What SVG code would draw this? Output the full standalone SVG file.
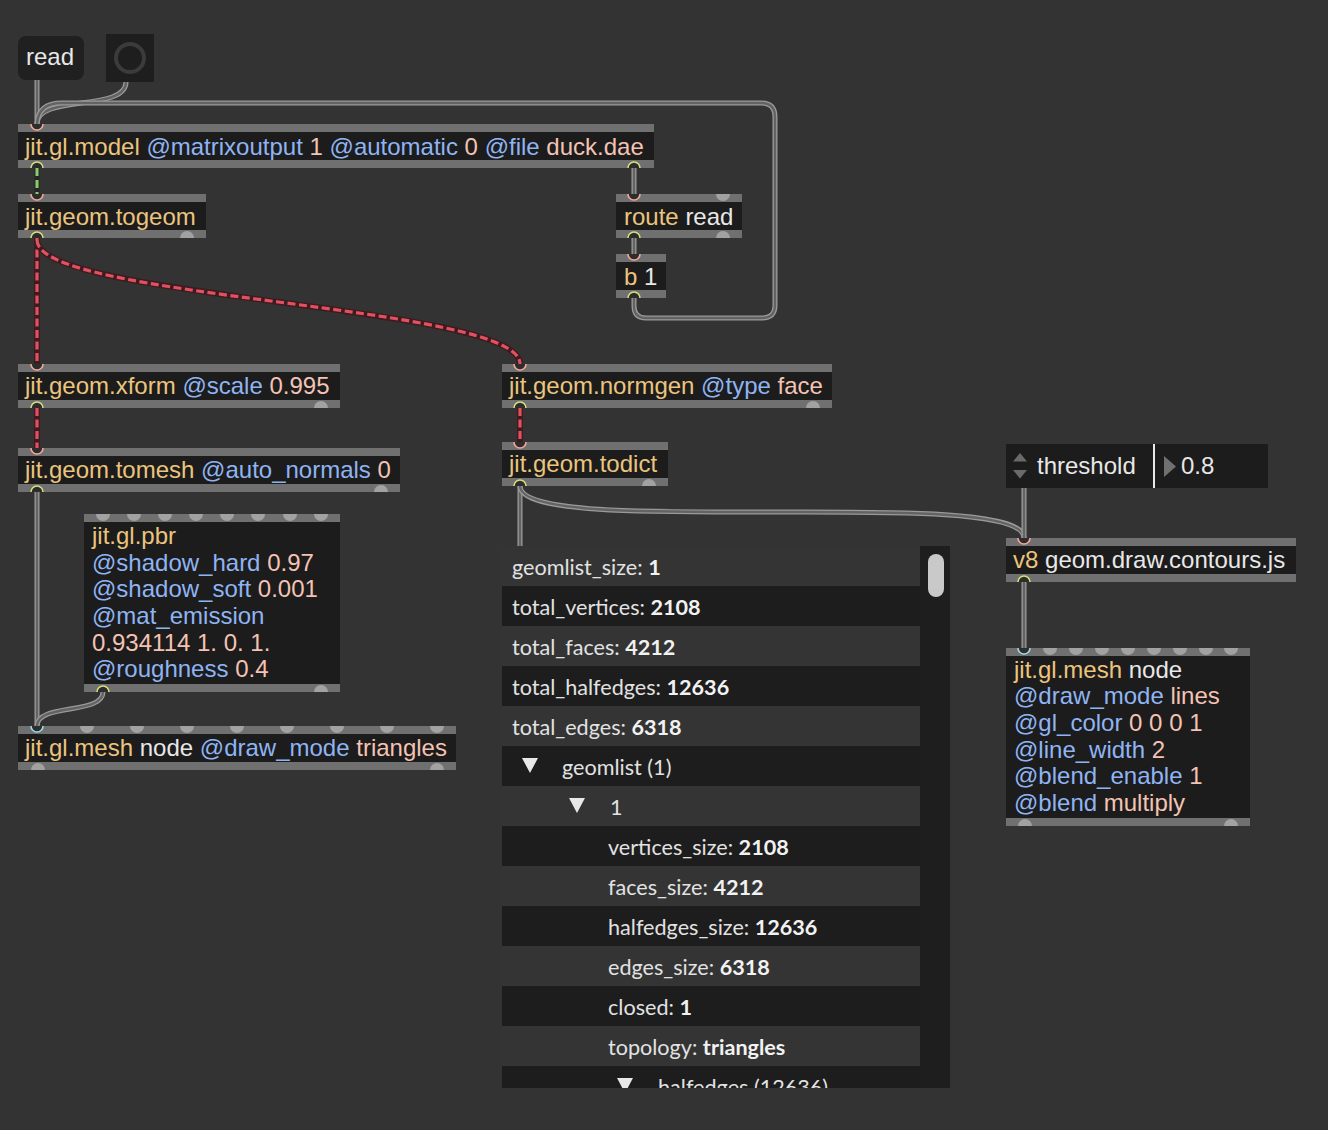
<svg xmlns="http://www.w3.org/2000/svg" xmlns:xlink="http://www.w3.org/1999/xlink" width="1328" height="1130" viewBox="0 0 1328 1130">
<style>
.bar{fill:#707070}
.body{fill:#1c1c1c}
.t{font-family:"Liberation Sans",Arial,sans-serif;font-size:24px;fill:#e8e8e8}
.c{fill:#ebc47e}
.a{fill:#8fb4f3}
.v{fill:#f4c3b3}
.w{fill:#e8e8e8}
.d{font-family:Lato,"Noto Sans",sans-serif;font-size:21.6px;fill:#e2e2e2}
.b{font-weight:bold;fill:#f2f2f2}
.lr{fill:#343434}
.dr{fill:#1d1d1d}
.co{fill:none;stroke:#9a9a9a;stroke-width:5}
.ci{fill:none;stroke:#636363;stroke-width:2.4}
.go{fill:none;stroke:#3d1b20;stroke-width:6}
.gi{fill:none;stroke:#e2515f;stroke-width:3.2;stroke-dasharray:8 3.5}
.mo{fill:none;stroke:#262626;stroke-width:5}
.mi{fill:none;stroke:#86cf6c;stroke-width:3;stroke-dasharray:8 4}
.pi{fill:#2d2d2d;stroke:#f2a99a;stroke-width:1.6}
.po{fill:#2d2d2d;stroke:#d6de7c;stroke-width:1.6}
.pc{fill:#2d2d2d;stroke:#9ad8ea;stroke-width:1.6}
.gp{fill:#a2a2a2}
.tri{fill:#e8e8e8}
</style>
<defs>
<path id="pIn" d="M-6,0 A6,6 0 0 0 6,0"/>
<path id="pOut" d="M-6,0 A6,6 0 0 1 6,0"/>
<path id="gIn" d="M-7,0 A7,7 0 0 0 7,0 Z"/>
<path id="gOut" d="M-7,0 A7,7 0 0 1 7,0 Z"/>
<clipPath id="dictClip"><rect x="502" y="546" width="448" height="542"/></clipPath>
</defs>
<rect x="0" y="0" width="1328" height="1130" fill="#333333"/>

<g id="connectors">
<path class="co" d="M37,80 L37,124"/><path class="ci" d="M37,80 L37,124"/>
<path class="co" d="M126,82 C126,112 37,94 37,124"/><path class="ci" d="M126,82 C126,112 37,94 37,124"/>
<path class="co" d="M634,298 L634,306 Q634,318 646,318 L762,318 Q775,318 775,305 L775,117 Q775,103 761,103 L62,103 Q38,103 37,124"/>
<path class="ci" d="M634,298 L634,306 Q634,318 646,318 L762,318 Q775,318 775,305 L775,117 Q775,103 761,103 L62,103 Q38,103 37,124"/>
<path class="co" d="M634,168 L634,194"/><path class="ci" d="M634,168 L634,194"/>
<path class="co" d="M634,238 L634,254"/><path class="ci" d="M634,238 L634,254"/>
<path class="mo" d="M37,168 L37,194"/><path class="mi" d="M37,168 L37,194"/>
<path class="go" d="M37,238 L37,364"/><path class="gi" d="M37,238 L37,364"/>
<path class="go" d="M37,240 C37,300 520,304 520,364"/><path class="gi" d="M37,240 C37,300 520,304 520,364"/>
<path class="go" d="M37,408 L37,448"/><path class="gi" d="M37,408 L37,448"/>
<path class="go" d="M520,408 L520,442"/><path class="gi" d="M520,408 L520,442"/>
<path class="co" d="M37,492 L37,726"/><path class="ci" d="M37,492 L37,726"/>
<path class="co" d="M103,692 C103,715 37,703 37,726"/><path class="ci" d="M103,692 C103,715 37,703 37,726"/>
<path class="co" d="M520,486 L520,546"/><path class="ci" d="M520,486 L520,546"/>
<path class="co" d="M520,486 C520,540 1024,484 1024,538"/><path class="ci" d="M520,486 C520,540 1024,484 1024,538"/>
<path class="co" d="M1024,488 L1024,538"/><path class="ci" d="M1024,488 L1024,538"/>
<path class="co" d="M1024,582 L1024,648"/><path class="ci" d="M1024,582 L1024,648"/>
</g>

<g id="n-read">
<rect x="18" y="36" width="66" height="44" rx="8" fill="#202020"/>
<text class="t w" x="26" y="65">read</text>
</g>

<g id="n-toggle">
<rect x="106" y="34" width="48" height="48" fill="#1e1e1e"/>
<circle cx="130" cy="58" r="14" fill="none" stroke="#3b3b3b" stroke-width="4"/>
</g>

<g id="n-model">
<rect class="bar" x="18" y="124" width="636" height="44"/>
<rect class="body" x="18" y="132" width="636" height="28"/>
<text class="t" x="25" y="154.5"><tspan class="c">jit.gl.model</tspan> <tspan class="a">@matrixoutput</tspan> <tspan class="v">1</tspan> <tspan class="a">@automatic</tspan> <tspan class="v">0</tspan> <tspan class="a">@file</tspan> <tspan class="v">duck.dae</tspan></text>
<use href="#pIn" x="37" y="124" class="pi"/>
<use href="#pOut" x="37" y="168" class="po"/>
<use href="#pOut" x="634" y="168" class="po"/>
</g>

<g id="n-togeom">
<rect class="bar" x="18" y="194" width="188" height="44"/>
<rect class="body" x="18" y="202" width="188" height="28"/>
<text class="t" x="25" y="224.5"><tspan class="c">jit.geom.togeom</tspan></text>
<use href="#pIn" x="37" y="194" class="pi"/>
<use href="#pOut" x="37" y="238" class="po"/>
<use href="#gOut" x="187" y="238" class="gp"/>
</g>

<g id="n-route">
<rect class="bar" x="616" y="194" width="126" height="44"/>
<rect class="body" x="616" y="202" width="126" height="28"/>
<text class="t" x="624" y="224.5"><tspan class="c">route</tspan> <tspan class="w">read</tspan></text>
<use href="#pIn" x="634" y="194" class="pi"/>
<use href="#gIn" x="723" y="194" class="gp"/>
<use href="#pOut" x="634" y="238" class="po"/>
<use href="#gOut" x="723" y="238" class="gp"/>
</g>

<g id="n-b1">
<rect class="bar" x="616" y="254" width="50" height="44"/>
<rect class="body" x="616" y="262" width="50" height="28"/>
<text class="t" x="624" y="284.5"><tspan class="c">b</tspan> <tspan class="w">1</tspan></text>
<use href="#pIn" x="634" y="254" class="pi"/>
<use href="#pOut" x="634" y="298" class="po"/>
</g>

<g id="n-xform">
<rect class="bar" x="18" y="364" width="322" height="44"/>
<rect class="body" x="18" y="372" width="322" height="28"/>
<text class="t" x="25" y="394"><tspan class="c">jit.geom.xform</tspan> <tspan class="a">@scale</tspan> <tspan class="v">0.995</tspan></text>
<use href="#pIn" x="37" y="364" class="pi"/>
<use href="#pOut" x="37" y="408" class="po"/>
<use href="#gOut" x="321" y="408" class="gp"/>
</g>

<g id="n-tomesh">
<rect class="bar" x="18" y="448" width="382" height="44"/>
<rect class="body" x="18" y="456" width="382" height="28"/>
<text class="t" x="25" y="478"><tspan class="c">jit.geom.tomesh</tspan> <tspan class="a">@auto_normals</tspan> <tspan class="v">0</tspan></text>
<use href="#pIn" x="37" y="448" class="pi"/>
<use href="#pOut" x="37" y="492" class="po"/>
<use href="#gOut" x="381" y="492" class="gp"/>
</g>

<g id="n-normgen">
<rect class="bar" x="502" y="364" width="330" height="44"/>
<rect class="body" x="502" y="372" width="330" height="28"/>
<text class="t" x="509" y="394"><tspan class="c">jit.geom.normgen</tspan> <tspan class="a">@type</tspan> <tspan class="v">face</tspan></text>
<use href="#pIn" x="520" y="364" class="pi"/>
<use href="#pOut" x="520" y="408" class="po"/>
<use href="#gOut" x="813" y="408" class="gp"/>
</g>

<g id="n-todict">
<rect class="bar" x="502" y="442" width="166" height="44"/>
<rect class="body" x="502" y="450" width="166" height="28"/>
<text class="t" x="509" y="472"><tspan class="c">jit.geom.todict</tspan></text>
<use href="#pIn" x="520" y="442" class="pi"/>
<use href="#pOut" x="520" y="486" class="po"/>
<use href="#gOut" x="649" y="486" class="gp"/>
</g>

<g id="n-pbr">
<rect class="bar" x="84" y="514" width="256" height="178"/>
<rect class="body" x="84" y="522" width="256" height="162"/>
<text class="t" x="92" y="543.8"><tspan class="c">jit.gl.pbr</tspan></text>
<text class="t" x="92" y="570.5"><tspan class="a">@shadow_hard</tspan> <tspan class="v">0.97</tspan></text>
<text class="t" x="92" y="597.2"><tspan class="a">@shadow_soft</tspan> <tspan class="v">0.001</tspan></text>
<text class="t" x="92" y="623.9"><tspan class="a">@mat_emission</tspan></text>
<text class="t" x="92" y="650.6"><tspan class="v">0.934114 1. 0. 1.</tspan></text>
<text class="t" x="92" y="677.3"><tspan class="a">@roughness</tspan> <tspan class="v">0.4</tspan></text>
<use href="#gIn" x="103" y="514" class="gp"/>
<use href="#gIn" x="134" y="514" class="gp"/>
<use href="#gIn" x="165" y="514" class="gp"/>
<use href="#gIn" x="196" y="514" class="gp"/>
<use href="#gIn" x="227" y="514" class="gp"/>
<use href="#gIn" x="258" y="514" class="gp"/>
<use href="#gIn" x="290" y="514" class="gp"/>
<use href="#gIn" x="321" y="514" class="gp"/>
<use href="#pOut" x="103" y="692" class="po"/>
<use href="#gOut" x="321" y="692" class="gp"/>
</g>

<g id="n-mesh1">
<rect class="bar" x="18" y="726" width="438" height="44"/>
<rect class="body" x="18" y="734" width="438" height="28"/>
<text class="t" x="25" y="756"><tspan class="c">jit.gl.mesh</tspan> <tspan class="w">node</tspan> <tspan class="a">@draw_mode</tspan> <tspan class="v">triangles</tspan></text>
<use href="#gIn" x="87" y="726" class="gp"/>
<use href="#gIn" x="137" y="726" class="gp"/>
<use href="#gIn" x="187" y="726" class="gp"/>
<use href="#gIn" x="237" y="726" class="gp"/>
<use href="#gIn" x="287" y="726" class="gp"/>
<use href="#gIn" x="337" y="726" class="gp"/>
<use href="#gIn" x="387" y="726" class="gp"/>
<use href="#gIn" x="437" y="726" class="gp"/>
<use href="#pIn" x="37" y="726" class="pc"/>
<use href="#gOut" x="38" y="770" class="gp"/>
<use href="#gOut" x="437" y="770" class="gp"/>
</g>

<g id="n-dict">
<g clip-path="url(#dictClip)">
<rect x="920" y="546" width="30" height="542" fill="#1e1e1e"/>
<rect class="lr" x="502" y="546" width="418" height="40"/>
<rect class="dr" x="502" y="586" width="418" height="40"/>
<rect class="lr" x="502" y="626" width="418" height="40"/>
<rect class="dr" x="502" y="666" width="418" height="40"/>
<rect class="lr" x="502" y="706" width="418" height="40"/>
<rect class="dr" x="502" y="746" width="418" height="40"/>
<rect class="lr" x="502" y="786" width="418" height="40"/>
<rect class="dr" x="502" y="826" width="418" height="40"/>
<rect class="lr" x="502" y="866" width="418" height="40"/>
<rect class="dr" x="502" y="906" width="418" height="40"/>
<rect class="lr" x="502" y="946" width="418" height="40"/>
<rect class="dr" x="502" y="986" width="418" height="40"/>
<rect class="lr" x="502" y="1026" width="418" height="40"/>
<rect class="dr" x="502" y="1066" width="418" height="40"/>
<text class="d" x="512" y="575">geomlist_size: <tspan class="b">1</tspan></text>
<text class="d" x="512" y="615">total_vertices: <tspan class="b">2108</tspan></text>
<text class="d" x="512" y="655">total_faces: <tspan class="b">4212</tspan></text>
<text class="d" x="512" y="695">total_halfedges: <tspan class="b">12636</tspan></text>
<text class="d" x="512" y="735">total_edges: <tspan class="b">6318</tspan></text>
<polygon class="tri" points="522,758 538,758 530,773"/>
<text class="d" x="562" y="775">geomlist (1)</text>
<polygon class="tri" points="569,798 585,798 577,813"/>
<text class="d" x="610" y="815">1</text>
<text class="d" x="608" y="855">vertices_size: <tspan class="b">2108</tspan></text>
<text class="d" x="608" y="895">faces_size: <tspan class="b">4212</tspan></text>
<text class="d" x="608" y="935">halfedges_size: <tspan class="b">12636</tspan></text>
<text class="d" x="608" y="975">edges_size: <tspan class="b">6318</tspan></text>
<text class="d" x="608" y="1015">closed: <tspan class="b">1</tspan></text>
<text class="d" x="608" y="1055">topology: <tspan class="b">triangles</tspan></text>
<polygon class="tri" points="617,1078 633,1078 625,1093"/>
<text class="d" x="658" y="1095">halfedges (12636)</text>
</g>
<rect x="928" y="554" width="16" height="43" rx="8" fill="#c9c9c9"/>
</g>

<g id="n-threshold">
<rect x="1006" y="444" width="262" height="44" fill="#1c1c1c"/>
<polygon points="1013,461.5 1027,461.5 1020,453" fill="#6a6a6a"/>
<polygon points="1013,470 1027,470 1020,478.5" fill="#6a6a6a"/>
<text class="t w" x="1037" y="474">threshold</text>
<rect x="1153" y="444" width="2" height="44" fill="#e8e8e8"/>
<polygon points="1164,456 1176,466.5 1164,477" fill="#707070"/>
<text class="t w" x="1181" y="474">0.8</text>
</g>

<g id="n-v8">
<rect class="bar" x="1006" y="538" width="290" height="44"/>
<rect class="body" x="1006" y="546" width="290" height="28"/>
<text class="t" x="1013" y="568"><tspan class="c">v8</tspan> <tspan class="w">geom.draw.contours.js</tspan></text>
<use href="#pIn" x="1024" y="538" class="pi"/>
<use href="#pOut" x="1024" y="582" class="po"/>
</g>

<g id="n-mesh2">
<rect class="bar" x="1006" y="648" width="244" height="178"/>
<rect class="body" x="1006" y="656" width="244" height="162"/>
<text class="t" x="1014" y="677.5"><tspan class="c">jit.gl.mesh</tspan> <tspan class="w">node</tspan></text>
<text class="t" x="1014" y="704.2"><tspan class="a">@draw_mode</tspan> <tspan class="v">lines</tspan></text>
<text class="t" x="1014" y="730.9"><tspan class="a">@gl_color</tspan> <tspan class="v">0 0 0 1</tspan></text>
<text class="t" x="1014" y="757.6"><tspan class="a">@line_width</tspan> <tspan class="v">2</tspan></text>
<text class="t" x="1014" y="784.3"><tspan class="a">@blend_enable</tspan> <tspan class="v">1</tspan></text>
<text class="t" x="1014" y="811"><tspan class="a">@blend</tspan> <tspan class="v">multiply</tspan></text>
<use href="#gIn" x="1050" y="648" class="gp"/>
<use href="#gIn" x="1076" y="648" class="gp"/>
<use href="#gIn" x="1102" y="648" class="gp"/>
<use href="#gIn" x="1128" y="648" class="gp"/>
<use href="#gIn" x="1154" y="648" class="gp"/>
<use href="#gIn" x="1180" y="648" class="gp"/>
<use href="#gIn" x="1206" y="648" class="gp"/>
<use href="#gIn" x="1231" y="648" class="gp"/>
<use href="#pIn" x="1024" y="648" class="pc"/>
<use href="#gOut" x="1025" y="826" class="gp"/>
<use href="#gOut" x="1231" y="826" class="gp"/>
</g>
</svg>
